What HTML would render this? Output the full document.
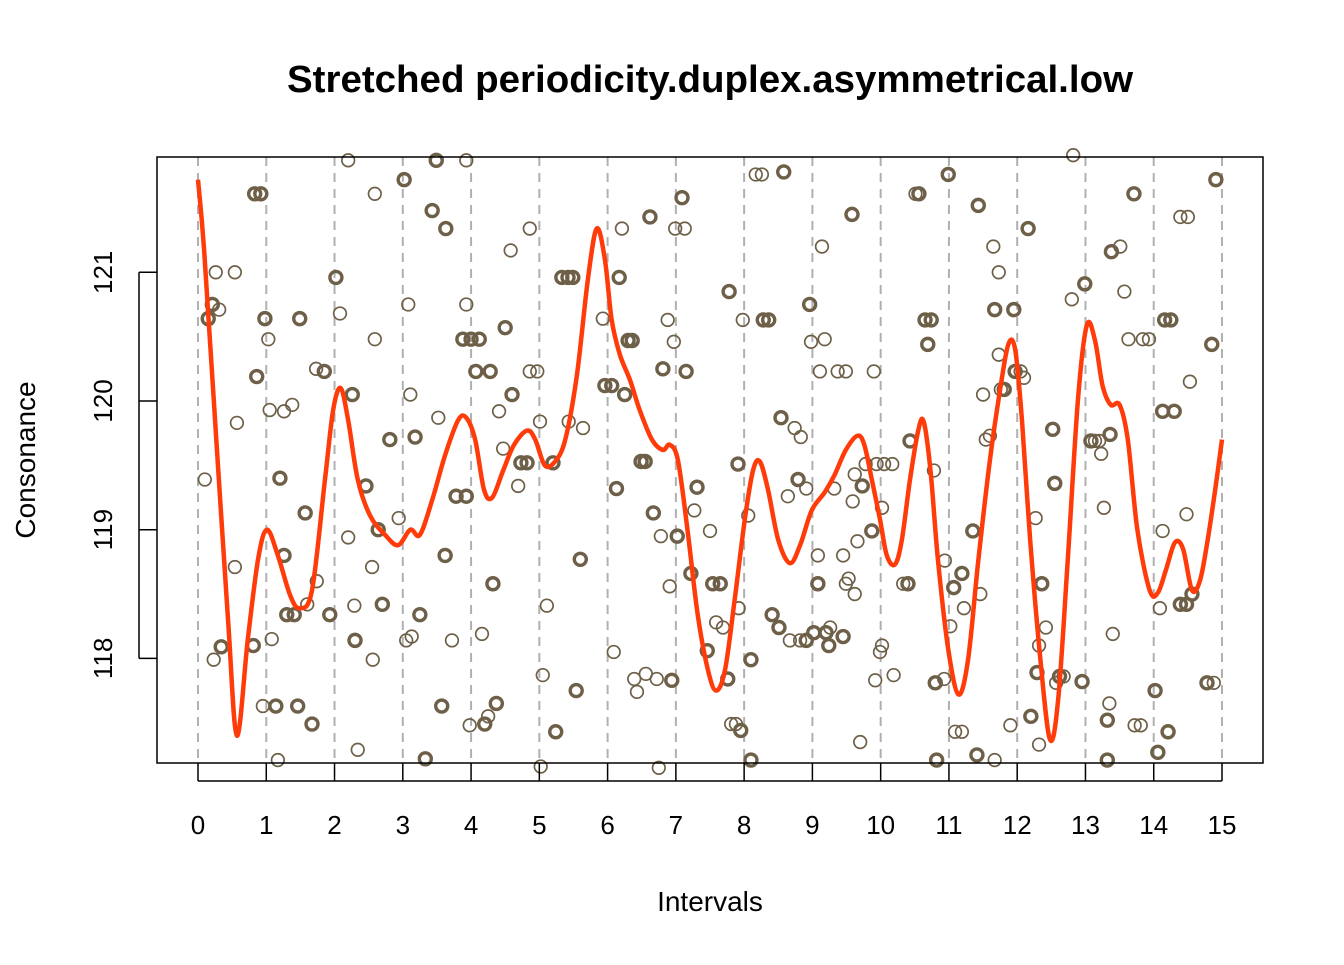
<!DOCTYPE html>
<html><head><meta charset="utf-8"><style>
html,body{margin:0;padding:0;background:#fff}
svg text{font-family:"Liberation Sans",Arial,sans-serif}
</style></head><body>
<svg id="chart" width="1344" height="960" xmlns="http://www.w3.org/2000/svg">
<text x="710" y="92" text-anchor="middle" font-size="38" font-weight="bold" textLength="846" lengthAdjust="spacingAndGlyphs">Stretched periodicity.duplex.asymmetrical.low</text>
<text x="710" y="911" text-anchor="middle" font-size="28">Intervals</text>
<text x="0" y="0" transform="translate(35,460) rotate(-90)" text-anchor="middle" font-size="28">Consonance</text>
<g id="grid"></g>
<g id="pts"></g>
<g id="curve"></g>
<g id="axes"></g>
<rect x="157" y="157" width="1106" height="606" fill="none" stroke="#000" stroke-width="1.5"/>
</svg>
<script>
const xTicks=[0,1,2,3,4,5,6,7,8,9,10,11,12,13,14,15];
const yTicks=[118,119,120,121];
const ptX=[.1,.15,.21,.26,.31,.23,.34,.54,.54,.57,.83,.92,.86,.81,.95,.98,1.03,1.05,1.08,1.14,1.17,1.2,1.26,1.26,1.3,1.41,1.38,1.46,1.49,1.57,1.6,1.67,1.74,1.73,1.85,1.93,2.02,2.08,2.2,2.2,2.26,2.29,2.3,2.34,2.46,2.55,2.56,2.59,2.59,2.64,2.7,2.81,2.94,3.02,3.08,3.11,3.05,3.13,3.18,3.25,3.33,3.43,3.52,3.49,3.63,3.62,3.57,3.72,3.78,3.93,3.93,3.93,3.88,4.0,4.12,4.07,3.98,4.16,4.2,4.25,4.28,4.32,4.37,4.41,4.47,4.5,4.58,4.6,4.69,4.73,4.82,4.86,4.86,4.97,5.01,5.02,5.05,5.11,5.2,5.24,5.33,5.42,5.49,5.43,5.54,5.6,5.64,5.93,5.96,6.06,6.09,6.13,6.17,6.21,6.25,6.3,6.36,6.39,6.43,6.49,6.55,6.56,6.62,6.67,6.72,6.75,6.78,6.81,6.88,6.91,6.94,6.97,6.99,7.02,7.09,7.13,7.15,7.22,7.27,7.31,7.46,7.5,7.54,7.59,7.65,7.69,7.76,7.78,7.81,7.88,7.95,7.91,7.92,7.98,8.06,8.1,8.1,8.17,8.26,8.28,8.36,8.41,8.51,8.54,8.58,8.64,8.67,8.74,8.79,8.82,8.83,8.91,8.91,8.96,8.98,9.02,9.08,9.08,9.11,9.14,9.18,9.2,9.24,9.26,9.32,9.37,9.45,9.45,9.49,9.49,9.53,9.58,9.62,9.62,9.59,9.66,9.7,9.73,9.78,9.87,9.9,9.92,9.94,9.99,10.02,10.02,10.05,10.17,10.19,10.33,10.4,10.43,10.51,10.56,10.65,10.69,10.74,10.78,10.8,10.82,10.93,10.94,10.99,11.02,11.07,11.09,11.19,11.19,11.22,11.35,11.41,11.43,11.46,11.5,11.54,11.6,11.65,11.67,11.67,11.73,11.73,11.76,11.81,11.9,11.95,11.97,12.05,12.1,12.16,12.2,12.27,12.29,12.32,12.32,12.36,12.42,12.52,12.55,12.57,12.62,12.68,12.8,12.82,12.95,12.99,13.08,13.14,13.2,13.23,13.27,13.32,13.32,13.35,13.38,13.36,13.4,13.51,13.57,13.63,13.71,13.72,13.81,13.84,13.93,14.02,14.06,14.09,14.13,14.13,14.16,14.25,14.21,14.3,14.39,14.48,14.39,14.5,14.48,14.53,14.56,14.78,14.88,14.85,14.91];
const ptY=[119.39,120.64,120.75,121.0,120.71,117.99,118.09,118.71,121.0,119.83,121.61,121.61,120.19,118.1,117.63,120.64,120.48,119.93,118.15,117.63,117.21,119.4,119.92,118.8,118.34,118.34,119.97,117.63,120.64,119.13,118.42,117.49,118.6,120.25,120.23,118.34,120.96,120.68,121.87,118.94,120.05,118.41,118.14,117.29,119.34,118.71,117.99,121.61,120.48,119.0,118.42,119.7,119.09,121.72,120.75,120.05,118.14,118.17,119.72,118.34,117.22,121.48,119.87,121.87,121.34,118.8,117.63,118.14,119.26,119.26,120.75,121.87,120.48,120.48,120.48,120.23,117.48,118.19,117.49,117.55,120.23,118.58,117.65,119.92,119.63,120.57,121.17,120.05,119.34,119.52,119.52,121.34,120.23,120.23,119.84,117.16,117.87,118.41,119.52,117.43,120.96,120.96,120.96,119.84,117.75,118.77,119.79,120.64,120.12,120.12,118.05,119.32,120.96,121.34,120.05,120.47,120.47,117.84,117.74,119.53,119.53,117.88,121.43,119.13,117.84,117.15,118.95,120.25,120.63,118.56,117.83,120.46,121.34,118.95,121.58,121.34,120.23,118.66,119.15,119.33,118.06,118.99,118.58,118.28,118.58,118.24,117.84,120.85,117.49,117.49,117.44,119.51,118.39,120.63,119.11,117.99,117.21,121.76,121.76,120.63,120.63,118.34,118.24,119.87,121.78,119.26,118.14,119.79,119.39,118.14,119.72,118.14,119.32,120.75,120.46,118.2,118.58,118.8,120.23,121.2,120.48,118.2,118.1,118.24,119.32,120.23,118.17,118.8,120.23,118.58,118.62,121.45,118.5,119.43,119.22,118.91,117.35,119.34,119.51,118.99,120.23,117.83,119.51,118.05,118.1,119.17,119.51,119.51,117.87,118.58,118.58,119.69,121.61,121.61,120.63,120.44,120.63,119.46,117.81,117.21,117.84,118.76,121.76,118.25,118.55,117.43,117.43,118.66,118.39,118.99,117.25,121.52,118.5,120.05,119.7,119.73,121.2,120.71,117.21,121.0,120.36,120.09,120.09,117.48,120.71,120.23,120.23,120.18,121.34,117.55,119.09,117.89,117.33,118.1,118.58,118.24,119.78,119.36,117.81,117.86,117.86,120.79,121.91,117.82,120.91,119.69,119.69,119.69,119.59,119.17,117.52,117.21,117.65,121.16,119.74,118.19,121.2,120.85,120.48,121.61,117.48,117.48,120.48,120.48,117.75,117.27,118.39,119.92,118.99,120.63,120.63,117.43,119.92,118.42,118.42,121.43,121.43,119.12,120.15,118.5,117.81,117.81,120.44,121.72];
const ptBold=[0,1,1,0,0,0,1,0,0,0,1,1,1,1,0,1,0,0,0,1,0,1,0,1,1,1,0,1,1,1,0,1,0,0,1,1,1,0,0,0,1,0,1,0,1,0,0,0,0,1,1,1,0,1,0,0,0,0,1,1,1,1,0,1,1,1,1,0,1,1,0,0,1,1,1,1,0,0,1,0,1,1,1,0,0,1,0,1,0,1,1,0,0,0,0,0,0,0,1,1,1,1,1,0,1,1,0,0,1,1,0,1,1,0,1,1,1,0,0,1,1,0,1,1,0,0,0,1,0,0,1,0,0,1,1,0,1,1,0,1,1,0,1,0,1,0,1,1,0,0,1,1,0,0,0,1,1,0,0,1,1,1,1,1,1,0,0,0,1,0,0,1,0,1,0,1,1,0,0,0,0,1,1,0,0,0,1,0,0,0,0,1,0,0,0,0,0,1,0,1,0,0,0,0,0,0,0,0,0,0,1,1,0,1,1,1,1,0,1,1,0,0,1,0,1,0,0,1,0,1,1,1,0,0,0,0,0,1,0,0,0,0,1,0,1,1,0,0,1,1,0,1,0,0,1,0,1,1,0,1,0,0,0,1,1,1,0,0,0,0,1,1,0,1,1,0,0,0,0,1,0,0,0,0,1,1,0,1,0,1,1,1,1,1,1,0,0,0,0,1,1,0,1,1,0,1,1,1,0,0,0,0,1,1];
const curveX=[0,.09,.25,.44,.57,.73,.88,1.01,1.17,1.35,1.49,1.67,1.86,1.98,2.09,2.2,2.34,2.52,2.74,2.93,3.11,3.25,3.43,3.62,3.81,3.93,4.06,4.19,4.31,4.47,4.63,4.82,4.94,5.08,5.23,5.38,5.55,5.71,5.84,5.96,6.06,6.18,6.33,6.47,6.65,6.81,6.91,7.03,7.17,7.32,7.47,7.59,7.72,7.86,8.01,8.13,8.23,8.35,8.5,8.67,8.82,8.99,9.18,9.32,9.49,9.66,9.76,9.87,9.99,10.09,10.21,10.31,10.43,10.55,10.63,10.73,10.84,10.99,11.14,11.28,11.43,11.6,11.75,11.87,11.97,12.07,12.19,12.34,12.48,12.6,12.74,12.89,13.02,13.14,13.25,13.37,13.5,13.62,13.76,13.94,14.06,14.18,14.31,14.43,14.56,14.68,14.79,14.9,15.0];
const curveY=[121.72,121.17,119.85,118.3,117.4,118.15,118.77,119.0,118.8,118.49,118.39,118.53,119.39,119.93,120.1,119.85,119.39,119.11,118.96,118.88,119.0,118.96,119.23,119.58,119.85,119.87,119.7,119.31,119.25,119.46,119.66,119.77,119.7,119.5,119.53,119.7,120.2,120.94,121.34,121.1,120.63,120.36,120.16,119.93,119.7,119.62,119.66,119.54,119.0,118.34,117.91,117.75,117.91,118.45,119.08,119.46,119.53,119.31,118.92,118.74,118.88,119.15,119.29,119.42,119.62,119.73,119.66,119.39,119.08,118.8,118.73,118.92,119.39,119.77,119.84,119.46,118.76,118.07,117.72,117.99,118.76,119.54,120.09,120.44,120.4,119.85,118.92,117.99,117.37,117.68,118.76,120.01,120.59,120.47,120.12,119.97,119.97,119.7,119.0,118.53,118.51,118.69,118.9,118.85,118.53,118.61,118.92,119.31,119.7];
const NS='http://www.w3.org/2000/svg';
const xs=v=>198+v*(1222-198)/15;
const ys=v=>401-(v-120)*128.7;
function mk(tag,attrs,parent){const e=document.createElementNS(NS,tag);for(const k in attrs)e.setAttribute(k,attrs[k]);parent.appendChild(e);return e;}
const grid=document.getElementById('grid'),axes=document.getElementById('axes'),pts=document.getElementById('pts'),cg=document.getElementById('curve');
xTicks.forEach(t=>{
  const g=mk('line',{x1:xs(t),x2:xs(t),y1:157,y2:763,stroke:'#b0b0b0','stroke-width':2,'stroke-dasharray':'9,7'},grid);
  
  
  const tk=mk('line',{x1:xs(t),x2:xs(t),y1:763,y2:781,stroke:'#000','stroke-width':1.5},axes);
  
  
  const tx=mk('text',{x:xs(t),y:834,'text-anchor':'middle','font-size':26},axes);
  tx.textContent=t;
  
  
});
mk('line',{x1:xs(0),x2:xs(15),y1:781,y2:781,stroke:'#000','stroke-width':1.5},axes);
yTicks.forEach(t=>{
  const tk=mk('line',{x1:139,x2:157,y1:ys(t),y2:ys(t),stroke:'#000','stroke-width':1.5},axes);
  
  
  const tx=mk('text',{x:0,y:0,transform:`translate(112,${ys(t)}) rotate(-90)`,'text-anchor':'middle','font-size':26},axes);
  tx.textContent=t;
  
  
});
mk('line',{x1:139,x2:139,y1:ys(118),y2:ys(121),stroke:'#000','stroke-width':1.5},axes);
ptX.forEach((x,i)=>{
  const c=mk('circle',{cx:xs(x),cy:ys(ptY[i]),r:ptBold[i]?6:6.3,fill:'none',stroke:'#6e6048','stroke-width':ptBold[i]?3.4:1.7},pts);
  
  
});
const P=curveX.map((x,i)=>[xs(x),ys(curveY[i])]);
let d='M'+P[0][0]+','+P[0][1];
for(let i=0;i<P.length-1;i++){
  const p0=P[i-1]||P[i],p1=P[i],p2=P[i+1],p3=P[i+2]||P[i+1];
  d+=` C${p1[0]+(p2[0]-p0[0])/6},${p1[1]+(p2[1]-p0[1])/6} ${p2[0]-(p3[0]-p1[0])/6},${p2[1]-(p3[1]-p1[1])/6} ${p2[0]},${p2[1]}`;
}
const path=mk('path',{d:d,fill:'none',stroke:'#ff3b0a','stroke-width':4.5,'stroke-linejoin':'round'},cg);


</script>
</body></html>
